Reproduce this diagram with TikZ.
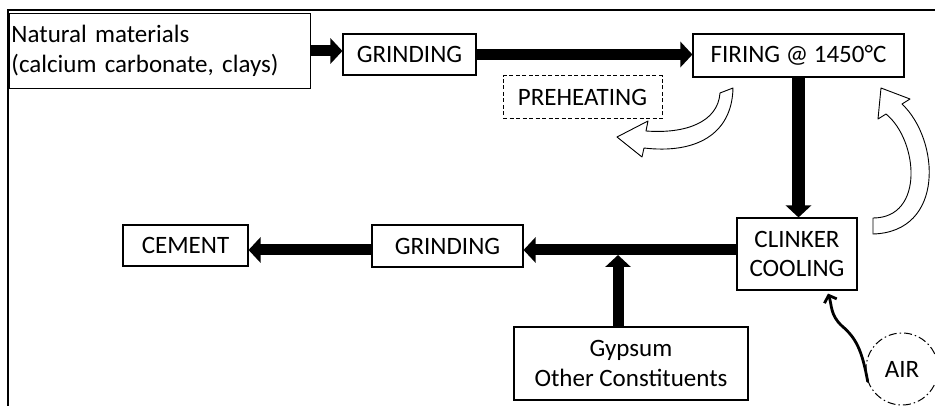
\documentclass[tikz,border=0pt]{standalone}
\usepackage{fontspec}
\setmainfont{Carlito}
\usepackage{tikz}
\usetikzlibrary{arrows.meta}
\newcommand{\DiagFont}{\fontsize{25}{29.5}\selectfont}
\tikzstyle{ProcBox}=[draw,line width=1.1pt,inner sep=2pt,font=\DiagFont]
\tikzstyle{PreBox}=[ProcBox,line width=1pt,dash pattern=on 4pt off 2.5pt]
\tikzstyle{AirNode}=[circle,draw,line width=1pt,dash pattern=on 8pt off 3pt on 1.5pt off 3pt,
minimum size=72pt,font=\DiagFont]
\tikzstyle{FatArc}=[line width=11pt,-{Triangle[width=25pt,length=12pt]}]
\tikzstyle{HollowArc}=[draw,fill=white,line width=0.9pt,line join=round]
\tikzstyle{AirArc}=[line width=2.8pt,line cap=round,-{Straight Barb[length=6pt,width=13pt]}]

\begin{document}
\begin{tikzpicture}[x=1pt,y=-1pt]
        \useasboundingbox(0,0)rectangle(935,406);
        \draw[line width=1.8pt](8,406)--(8,10)--(940,10);
        \node[ProcBox,text width=297pt,minimum height=75pt,align=left](nat)at(160,51){Natural materials\\(calcium carbonate, clays)};
        \node[ProcBox,minimum width=133pt,minimum height=41pt](grindA)at(409.5,54.5){GRINDING};
        \node[ProcBox,minimum width=211pt,minimum height=43pt](fire)at(798.5,55.5){FIRING @ 1450°C};
        \node[PreBox,minimum width=159pt,minimum height=43pt](preheat)at(582.5,97.5){PREHEATING};
        \node[ProcBox,minimum width=120pt,minimum height=72pt,align=center](clinker)at(797,254){CLINKER\\COOLING};
        \node[ProcBox,minimum width=151pt,minimum height=42pt](grindB)at(447.5,246){GRINDING};
        \node[ProcBox,minimum width=125pt,minimum height=41pt](cement)at(185.5,245.5){CEMENT};
        \node[ProcBox,minimum width=234pt,minimum height=73pt,align=center](gyp)at(631,363.5){Gypsum\\Other Constituents};
        \node[AirNode](air)at(902,369){AIR};
        \coordinate(join)at(618,250);
        \draw[FatArc](nat.east)--(grindA.west|-nat.east);
        \draw[FatArc](grindA.east)--(fire.west|-grindA.east);
        \draw[FatArc,line width=13pt](fire.south)--(fire.south|-clinker.north);
        \draw[FatArc](clinker.west|-join)--(grindB.east|-join);
        \draw[FatArc](grindB.west|-join)--(cement.east|-join);
        \draw[FatArc](gyp.north-|join)--([yshift=-5pt]join);
        \draw[AirArc](air.200)..controls(862,350)and(856,338)..(842,326)
            ..controls(830,315)and(832,305)..([xshift=31pt,yshift=-3pt]clinker.south);
        \filldraw[HollowArc](733,88)..controls(732,135)and(695,154)..(644,148)--(642,157)--(617,137)
            --(648,121)--(646,131)..controls(686,134)and(718,122)..(720,93)--cycle;
        \filldraw[HollowArc](873,234)..controls(945,232)and(940,140)..(902,104)--(910,99)--(881,88)
            --(878,119)--(886,114)..controls(918,140)and(925,218)..(873,218)--cycle;
    \end{tikzpicture}
\end{document}
